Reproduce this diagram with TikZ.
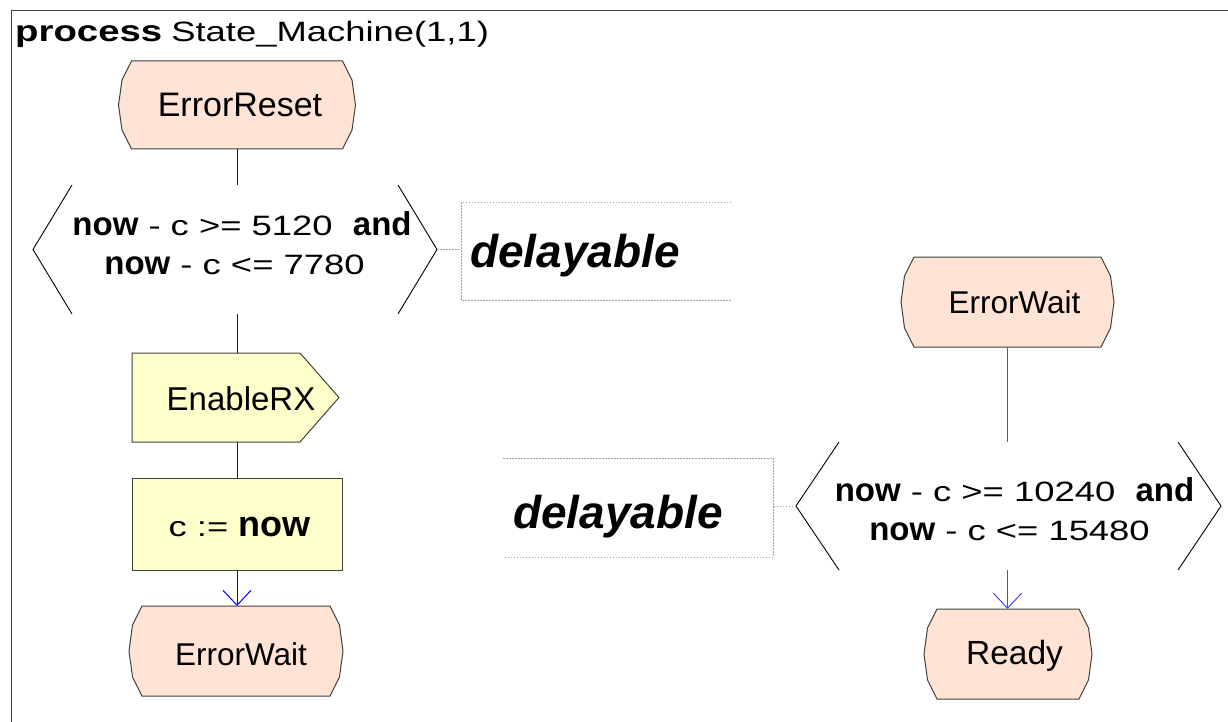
\documentclass[tikz,border=0pt]{standalone}
\usepackage{fontspec}
\setmainfont{Liberation Sans}
\newfontfamily\stfam{Liberation Sans}[FakeStretch=1.3]
\usetikzlibrary{arrows.meta}
\definecolor{stfill}{RGB}{255,228,214}
\definecolor{ylfill}{RGB}{255,255,204}
\definecolor{edgec}{RGB}{64,64,64}
\definecolor{lnc}{RGB}{0,0,255}
\definecolor{lnb}{RGB}{70,70,255}
\definecolor{dotc}{RGB}{160,160,160}
\newcommand\kw[2]{{\rmfamily\fontsize{#1}{#1}\selectfont\bfseries #2}}
\newcommand\rgf{\stfam\fontsize{28}{34}\selectfont}
\newcommand\stateshape[1]{\path[stateshp] ([xshift=13pt]#1.north west) -- ([xshift=-13pt]#1.north east) -- ([xshift=-3.5pt,yshift=-19pt]#1.north east) -- (#1.east) -- ([xshift=-3.5pt,yshift=19pt]#1.south east) -- ([xshift=-13pt]#1.south east) -- ([xshift=13pt]#1.south west) -- ([xshift=3.5pt,yshift=19pt]#1.south west) -- (#1.west) -- ([xshift=3.5pt,yshift=-19pt]#1.north west) -- cycle;}
\newcommand\decshape[2]{\draw[decln] ([xshift=#2]#1.north west) -- (#1.west) -- ([xshift=#2]#1.south west); \draw[decln] ([xshift=-#2]#1.north east) -- (#1.east) -- ([xshift=-#2]#1.south east);}
\tikzset{
  shpbox/.style={rectangle, draw=none, inner sep=0pt, outer sep=0pt},
  stateshp/.style={draw=edgec, line width=1pt, fill=stfill},
  yelshp/.style={draw=edgec, line width=1pt, fill=ylfill},
  decln/.style={draw=black, line width=0.9pt},
  dotln/.style={draw=dotc, line width=0.9pt, dash pattern=on 1.5pt off 1.5pt},
  conn/.style={draw=lnc, line width=1pt},
  connb/.style={draw=lnb, line width=1pt},
  arr/.style={-{Straight Barb[length=15pt,width=28pt,line width=1pt]}},
  txt/.style={anchor=base, inner sep=0pt, outer sep=0pt},
  sttxt/.style={txt, font=\fontsize{33}{36}\selectfont},
}
\begin{document}
\begin{tikzpicture}[x=1pt,y=-1pt]
\useasboundingbox (0,0) rectangle (1228,722);
% frame
\draw[line width=1pt, draw=edgec] (11,722) -- (11,11) -- (1228,11);
\node[anchor=base west, inner sep=0pt] (title) at (15,42) {{\stfam\bfseries\fontsize{29.5}{36}\selectfont process}\hspace{9pt}{\rgf State\_Machine(1,1)}};

% shape boxes
\node[shpbox, minimum width=237pt, minimum height=88pt] (s1) at (237,105) {};
\node[shpbox, minimum width=404pt, minimum height=129pt] (d1) at (235,249.5) {};
\node[shpbox, minimum width=270pt, minimum height=98pt] (a1) at (596,251) {};
\node[shpbox, minimum width=207pt, minimum height=89pt] (o1) at (235.5,397.5) {};
\node[shpbox, minimum width=210pt, minimum height=92pt] (t1) at (237,524) {};
\node[shpbox, minimum width=214pt, minimum height=90pt] (w1) at (236,651) {};
\node[shpbox, minimum width=213pt, minimum height=90pt] (w2) at (1007.5,302) {};
\node[shpbox, minimum width=425pt, minimum height=128pt] (d2) at (1008.5,506) {};
\node[shpbox, minimum width=270pt, minimum height=99pt] (a2) at (638,507.5) {};
\node[shpbox, minimum width=168pt, minimum height=90pt] (r1) at (1008,654) {};

% shapes
\stateshape{s1}
\stateshape{w1}
\stateshape{w2}
\stateshape{r1}
\decshape{d1}{39pt}
\decshape{d2}{43pt}
\path[yelshp] (o1.north west) -- ([xshift=-39pt]o1.north east) -- (o1.east) -- ([xshift=-39pt]o1.south east) -- (o1.south west) -- cycle;
\path[yelshp] (t1.north west) rectangle (t1.south east);
\draw[dotln] (a1.north east) -- (a1.north west) -- (a1.south west) -- (a1.south east);
\draw[dotln] (a2.north west) -- (a2.north east) -- (a2.south east) -- (a2.south west);

% connectors
\draw[conn] (s1.south) -- (s1.south |- d1.north);
\draw[conn] (s1.south |- d1.south) -- (s1.south |- o1.north);
\draw[conn] (s1.south |- o1.south) -- (t1.north);
\draw[conn, arr] (t1.south) -- (t1.south |- w1.north);
\draw[connb] (w2.south) -- (w2.south |- d2.north);
\draw[connb, arr] (w2.south |- d2.south) -- (w2.south |- r1.north);
\draw[dotln] (d1.east) -- (d1.east -| a1.west);
\draw[dotln] (d2.west) -- (d2.west -| a2.east);

% texts
\node[sttxt, font=\fontsize{34}{36}\selectfont] (s1t) at (240,116.7) {ErrorReset};
\node[txt] (d1a) at (242,235) {\rgf\kw{33}{now} - c >= 5120 \ \kw{33}{and}};
\node[txt] (d1b) at (234.5,274) {\rgf\kw{33}{now} - c <= 7780};
\node[anchor=base west, inner sep=0pt] (a1t) at (470,267) {\fontsize{46}{50}\selectfont\bfseries\itshape delayable};
\node[sttxt] (o1t) at (241,410) {EnableRX};
\node[txt] (t1t) at (239.5,536) {\rgf c := \kw{36}{now}};
\node[sttxt, font=\fontsize{31.5}{36}\selectfont] (w1t) at (241,665) {ErrorWait};
\node[sttxt, font=\fontsize{31.5}{36}\selectfont] (w2t) at (1014.5,313) {ErrorWait};
\node[txt] (d2a) at (1014.5,501) {\rgf\kw{33}{now} - c >= 10240 \ \kw{33}{and}};
\node[txt] (d2b) at (1009.5,540) {\rgf\kw{33}{now} - c <= 15480};
\node[anchor=base west, inner sep=0pt] (a2t) at (513,528) {\fontsize{46}{50}\selectfont\bfseries\itshape delayable};
\node[sttxt, font=\fontsize{33.5}{36}\selectfont] (r1t) at (1014.5,664) {Ready};
\end{tikzpicture}
\end{document}
